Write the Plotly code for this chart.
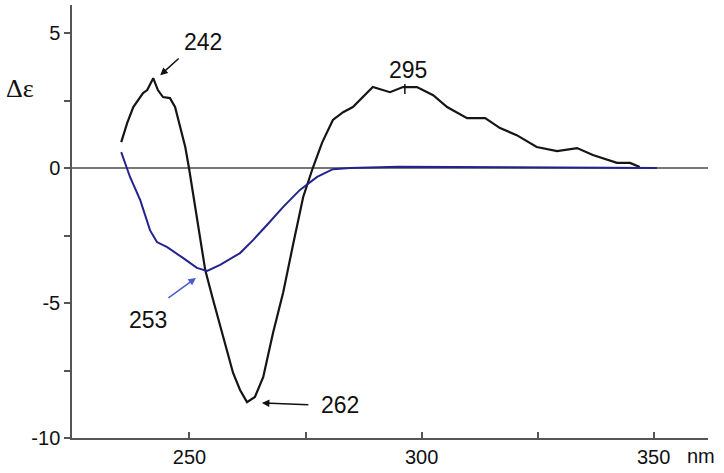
import plotly.graph_objects as go

# Black CD curve
black_x = [235.3, 236.6, 237.9, 240.0, 240.9, 242.2, 243.2, 244.3, 245.8, 246.9, 248.0, 249.1,
           249.9, 251.6, 253.4, 255.1, 257.2, 259.4, 260.9, 262.4, 264.1, 265.9, 268.0, 270.2,
           272.3, 274.5, 276.6, 278.6, 280.9, 283.1, 285.2, 287.4, 289.5, 293.2, 296.0, 299.0,
           302.5, 305.5, 309.8, 313.7, 316.9, 320.5, 324.8, 329.2, 333.5, 336.9, 342.1, 344.9, 347.0]
black_y = [0.96, 1.67, 2.26, 2.78, 2.89, 3.33, 2.89, 2.63, 2.59, 2.26, 1.52, 0.78,
           0.0, -1.81, -3.78, -4.89, -6.26, -7.59, -8.22, -8.67, -8.48, -7.74, -6.11, -4.6,
           -2.85, -1.07, 0.02, 0.95, 1.78, 2.07, 2.26, 2.63, 3.0, 2.81, 3.0, 3.0,
           2.70, 2.26, 1.85, 1.85, 1.48, 1.22, 0.78, 0.63, 0.74, 0.48, 0.19, 0.19, 0.04]

# Blue CD curve
blue_x = [235.3, 237.2, 239.4, 241.5, 243.0, 245.2, 248.6, 251.6, 253.8, 256.6, 260.9, 263.7,
          266.7, 270.2, 273.8, 277.5, 280.9, 284.6, 295.0, 320.0, 340.0, 350.7]
blue_y = [0.59, -0.33, -1.19, -2.30, -2.74, -2.93, -3.33, -3.70, -3.81, -3.59, -3.15, -2.67,
          -2.11, -1.44, -0.81, -0.33, -0.04, 0.0, 0.05, 0.03, 0.01, 0.0]

x_tick_vals = [250, 275, 300, 325, 350]
x_tick_text = ["250", "", "300", "", "350"]
y_tick_vals = [5, 2.5, 0, -2.5, -5, -7.5, -10]
y_tick_text = ["5", "", "0", "", "-5", "", "-10"]

FONT = "Liberation Sans, Arial, sans-serif"

fig = go.Figure()
fig.add_trace(go.Scatter(x=black_x, y=black_y, mode="lines",
                         line=dict(color="#151515", width=2.2), hoverinfo="skip"))
fig.add_trace(go.Scatter(x=blue_x, y=blue_y, mode="lines",
                         line=dict(color="#23238e", width=2), hoverinfo="skip"))

ann = []
# arrows (no text)
ann.append(dict(x=243.7, y=3.44, ax=20, ay=-18, text="", showarrow=True, arrowhead=2,
                arrowsize=1, arrowwidth=1.5, arrowcolor="#111"))
ann.append(dict(x=251.4, y=-4.07, ax=-29, ay=21, text="", showarrow=True, arrowhead=2,
                arrowsize=1, arrowwidth=1.5, arrowcolor="#4a5ad0"))
ann.append(dict(x=265.6, y=-8.70, ax=48, ay=2, text="", showarrow=True, arrowhead=2,
                arrowsize=1, arrowwidth=1.5, arrowcolor="#111"))
# labels
for tx, ty, t in [(252.9, 4.67, "242"), (241.1, -5.63, "253"), (282.4, -8.78, "262"),
                  (297.1, 3.63, "295")]:
    ann.append(dict(x=tx, y=ty, text=t, showarrow=False, xanchor="center",
                    font=dict(family=FONT, size=23, color="#111")))
ann.append(dict(xref="paper", x=-0.082, y=2.96, text="Δε", showarrow=False,
                xanchor="center", yanchor="middle",
                font=dict(family="Liberation Serif, serif", size=26, color="#111")))
ann.append(dict(xref="paper", yref="paper", x=0.989, y=-0.0416, text="nm", showarrow=False,
                xanchor="center", yanchor="middle",
                font=dict(family=FONT, size=20, color="#111")))

fig.update_layout(
    width=724, height=473,
    margin=dict(l=72, r=16, t=5, b=35),
    paper_bgcolor="white", plot_bgcolor="white",
    showlegend=False,
    annotations=ann,
    shapes=[dict(type="line", x0=296.4, x1=296.4, y0=2.74, y1=3.11, xref="x", yref="y",
                 line=dict(color="#111", width=1.5))],
    xaxis=dict(range=[224.7, 361.7], showgrid=False, zeroline=False, showline=True,
               automargin=False,
               linecolor="#555", linewidth=1.5, ticks="inside", ticklen=6, tickwidth=1.5,
               tickcolor="#555", tickvals=x_tick_vals, ticktext=x_tick_text,
               tickfont=dict(family=FONT, size=20, color="#111")),
    yaxis=dict(range=[-10, 6.04], showgrid=False, zeroline=True, zerolinecolor="#777",
               automargin=False,
               zerolinewidth=1.5, showline=True, linecolor="#555", linewidth=1.5,
               ticks="outside", ticklen=6, tickwidth=1.5, tickcolor="#555",
               tickvals=y_tick_vals, ticktext=y_tick_text,
               tickfont=dict(family=FONT, size=20, color="#111")),
)

fig.write_html("out.html", config={"displayModeBar": False},
               post_script="document.body.style.margin='0';document.body.style.overflow='hidden';")
